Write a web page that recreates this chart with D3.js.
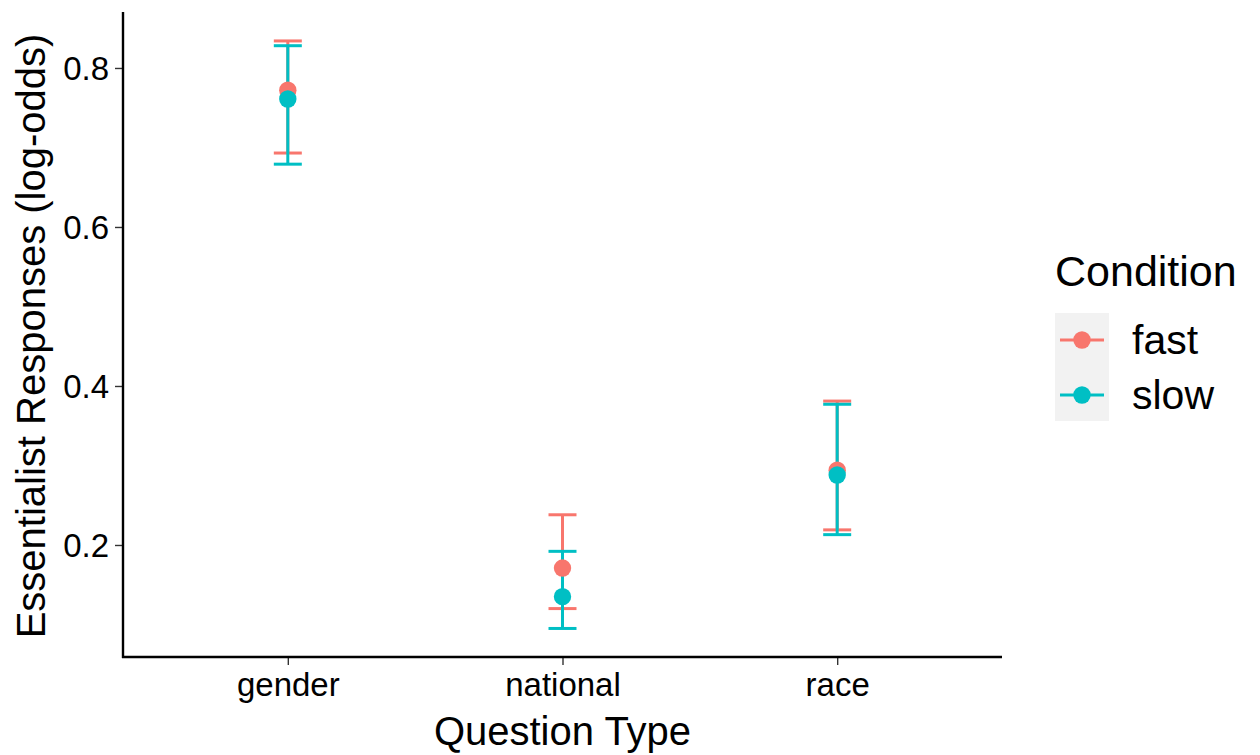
<!DOCTYPE html>
<html><head><meta charset="utf-8">
<script src="https://cdn.jsdelivr.net/npm/d3@7"></script>
<style>body{margin:0;background:#fff}svg{display:block;font-family:"Liberation Sans",Arial,sans-serif}</style>
</head><body><svg id="c" width="1260" height="755"></svg>
<script>
const categories = ["gender","national","race"];
const conditions = ["fast","slow"];
const colors = ["#F8766D","#00BFC4"];
const fastMean = [0.772, 0.171, 0.294];
const fastLow  = [0.693, 0.120, 0.219];
const fastHigh = [0.834, 0.238, 0.381];
const slowMean = [0.761, 0.135, 0.288];
const slowLow  = [0.679, 0.095, 0.213];
const slowHigh = [0.828, 0.192, 0.377];
const yTicks = [0.2,0.4,0.6,0.8];

const svg = d3.select("#c");
const L=123, R=1002, T=12, B=657;
const x = d3.scalePoint().domain(categories).range([L,R]).padding(0.6);
const y = d3.scaleLinear().domain([0.0591,0.8704]).range([B,T]);

const series = [
  {name:conditions[0], color:colors[0], mean:fastMean, lo:fastLow, hi:fastHigh},
  {name:conditions[1], color:colors[1], mean:slowMean, lo:slowLow, hi:slowHigh}
];
const capW = 14;
series.forEach(s=>{
  const g = svg.append("g");
  categories.forEach((c,i)=>{
    const cx = x(c);
    g.append("line").attr("x1",cx).attr("x2",cx).attr("y1",y(s.lo[i])).attr("y2",y(s.hi[i]))
      .attr("stroke",s.color).attr("stroke-width",3);
    [s.lo[i],s.hi[i]].forEach(v=>g.append("line").attr("x1",cx-capW).attr("x2",cx+capW)
      .attr("y1",y(v)).attr("y2",y(v)).attr("stroke",s.color).attr("stroke-width",3));
  });
});
series.forEach(s=>{
  categories.forEach((c,i)=>{
    svg.append("circle").attr("cx",x(c)).attr("cy",y(s.mean[i])).attr("r",8.7).attr("fill",s.color);
  });
});

// axes
const ya = svg.append("g").attr("transform",`translate(${L},0)`)
  .call(d3.axisLeft(y).tickValues(yTicks).tickFormat(d3.format(".1f")).tickSize(8).tickPadding(6));
const xa = svg.append("g").attr("transform",`translate(0,${B})`)
  .call(d3.axisBottom(x).tickSize(8).tickPadding(7));
[ya,xa].forEach(a=>{
  a.attr("font-size",null).attr("font-family",null);
  a.select(".domain").remove();
  a.selectAll(".tick line").attr("stroke","#333").attr("stroke-width",1.4);
  a.selectAll(".tick text").attr("fill","#000").attr("font-size","33px");
});
ya.selectAll(".tick text").attr("dy","0.36em");
xa.selectAll(".tick text").attr("dy","0.74em");
svg.append("line").attr("x1",L).attr("x2",L).attr("y1",T).attr("y2",B+1).attr("stroke","#000").attr("stroke-width",2.4);
svg.append("line").attr("x1",L-1).attr("x2",R).attr("y1",B).attr("y2",B).attr("stroke","#000").attr("stroke-width",2.4);

svg.append("text").attr("x",(L+R)/2).attr("y",745).attr("text-anchor","middle")
  .attr("font-size","40px").text("Question Type");
svg.append("text").attr("transform",`translate(45,336) rotate(-90)`).attr("text-anchor","middle")
  .attr("font-size","40px").text("Essentialist Responses (log-odds)");

// legend
const lg = svg.append("g");
lg.append("text").attr("x",1055).attr("y",286).attr("font-size","43px").text("Condition");
lg.append("rect").attr("x",1055).attr("y",313).attr("width",54).attr("height",108).attr("fill","#F2F2F2");
series.forEach((s,i)=>{
  const cy = 340 + i*55;
  lg.append("line").attr("x1",1060).attr("x2",1104).attr("y1",cy).attr("y2",cy).attr("stroke",s.color).attr("stroke-width",3);
  lg.append("circle").attr("cx",1082).attr("cy",cy).attr("r",8.7).attr("fill",s.color);
  lg.append("text").attr("x",1132).attr("y",cy+14).attr("font-size","41px").text(s.name);
});
</script></body></html>
